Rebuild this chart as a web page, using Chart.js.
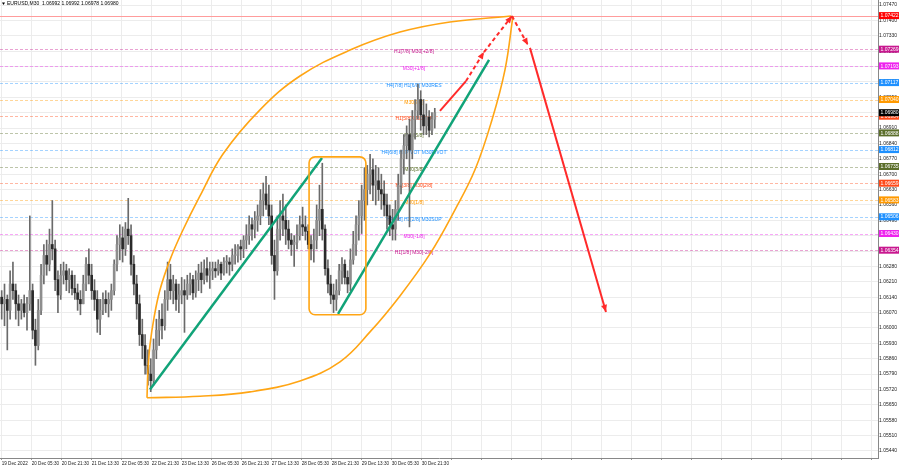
<!DOCTYPE html>
<html>
<head>
<meta charset="utf-8">
<script src="https://cdn.jsdelivr.net/npm/chart.js@4.4.0/dist/chart.umd.min.js"></script>
<style>
  html, body { margin: 0; padding: 0; background: #fff; }
</style>
</head>
<body>
<canvas id="myChart" width="900" height="468"></canvas>
<script>
// time axis labels (one every 32 M30 bars)
const timeLabels = ['19 Dec 2022', '20 Dec 05:30', '20 Dec 21:30', '21 Dec 13:30', '22 Dec 05:30',
  '22 Dec 21:30', '23 Dec 13:30', '26 Dec 05:30', '26 Dec 21:30', '27 Dec 13:30', '28 Dec 05:30',
  '28 Dec 21:30', '29 Dec 13:30', '30 Dec 05:30', '30 Dec 21:30'];

const priceTicks = [1.0544, 1.0551, 1.0558, 1.0565, 1.0572, 1.0579, 1.0586, 1.0593, 1.0600, 1.0607,
  1.0614, 1.0621, 1.0628, 1.0635, 1.0642, 1.0649, 1.0656, 1.0663, 1.0670, 1.0677,
  1.0684, 1.0691, 1.0698, 1.0705, 1.0712, 1.0719, 1.0726, 1.0733, 1.0740, 1.0747];

// EURUSD candles (each one = 1.5 hours)
const firstOpen = 1.0614;
const highs = [
  1.0617, 1.0620, 1.0615, 1.0626, 1.0630, 1.0620, 1.0615, 1.0613, 1.0615, 1.0614,
  1.0651, 1.0620, 1.0604, 1.0613, 1.0629, 1.0638, 1.0640, 1.0645, 1.0658, 1.0640,
  1.0626, 1.0629, 1.0630, 1.0629, 1.0627, 1.0626, 1.0624, 1.0620, 1.0617, 1.0624,
  1.0632, 1.0636, 1.0629, 1.0622, 1.0617, 1.0613, 1.0616, 1.0617, 1.0616, 1.0620,
  1.0631, 1.0642, 1.0647, 1.0646, 1.0648, 1.0659, 1.0647, 1.0633, 1.0624, 1.0615,
  1.0604, 1.0597, 1.0590, 1.0586, 1.0595, 1.0604, 1.0608, 1.0611, 1.0617, 1.0630,
  1.0629, 1.0624, 1.0622, 1.0620, 1.0623, 1.0622, 1.0624, 1.0625, 1.0624, 1.0626,
  1.0629, 1.0630, 1.0631, 1.0632, 1.0630, 1.0630, 1.0630, 1.0631, 1.0630, 1.0632,
  1.0633, 1.0632, 1.0636, 1.0638, 1.0638, 1.0640, 1.0642, 1.0647, 1.0651, 1.0650,
  1.0653, 1.0656, 1.0663, 1.0666, 1.0669, 1.0665, 1.0656, 1.0640, 1.0651, 1.0658,
  1.0661, 1.0656, 1.0649, 1.0643, 1.0642, 1.0647, 1.0651, 1.0655, 1.0651, 1.0647,
  1.0642, 1.0645, 1.0656, 1.0665, 1.0675, 1.0647, 1.0631, 1.0624, 1.0620, 1.0622,
  1.0629, 1.0632, 1.0631, 1.0626, 1.0636, 1.0644, 1.0651, 1.0658, 1.0665, 1.0673,
  1.0674, 1.0679, 1.0677, 1.0674, 1.0673, 1.0670, 1.0667, 1.0661, 1.0656, 1.0654,
  1.0658, 1.0670, 1.0681, 1.0688, 1.0692, 1.0695, 1.0699, 1.0704, 1.0711, 1.0708,
  1.0704, 1.0702, 1.0699, 1.0698, 1.0700];
const lows = [
  1.0604, 1.0601, 1.0590, 1.0604, 1.0613, 1.0604, 1.0601, 1.0604, 1.0605, 1.0599,
  1.0608, 1.0595, 1.0583, 1.0590, 1.0606, 1.0620, 1.0624, 1.0626, 1.0631, 1.0617,
  1.0607, 1.0613, 1.0620, 1.0617, 1.0616, 1.0615, 1.0613, 1.0608, 1.0606, 1.0611,
  1.0617, 1.0620, 1.0613, 1.0608, 1.0598, 1.0597, 1.0606, 1.0607, 1.0605, 1.0608,
  1.0615, 1.0626, 1.0631, 1.0630, 1.0633, 1.0638, 1.0624, 1.0615, 1.0604, 1.0592,
  1.0586, 1.0579, 1.0574, 1.0571, 1.0574, 1.0586, 1.0592, 1.0595, 1.0599, 1.0608,
  1.0613, 1.0611, 1.0608, 1.0607, 1.0611, 1.0598, 1.0613, 1.0615, 1.0613, 1.0614,
  1.0617, 1.0616, 1.0620, 1.0621, 1.0618, 1.0622, 1.0623, 1.0624, 1.0622, 1.0624,
  1.0625, 1.0624, 1.0626, 1.0629, 1.0630, 1.0631, 1.0632, 1.0636, 1.0638, 1.0640,
  1.0641, 1.0644, 1.0647, 1.0651, 1.0654, 1.0647, 1.0629, 1.0613, 1.0624, 1.0640,
  1.0642, 1.0638, 1.0636, 1.0633, 1.0628, 1.0636, 1.0640, 1.0642, 1.0640, 1.0636,
  1.0631, 1.0630, 1.0636, 1.0642, 1.0640, 1.0624, 1.0616, 1.0611, 1.0607, 1.0608,
  1.0615, 1.0620, 1.0620, 1.0616, 1.0617, 1.0629, 1.0633, 1.0640, 1.0643, 1.0649,
  1.0656, 1.0661, 1.0658, 1.0656, 1.0658, 1.0654, 1.0651, 1.0645, 1.0642, 1.0640,
  1.0640, 1.0649, 1.0661, 1.0670, 1.0677, 1.0646, 1.0677, 1.0686, 1.0695, 1.0690,
  1.0688, 1.0688, 1.0687, 1.0688, 1.0691];
const closes = [
  1.0611, 1.0613, 1.0608, 1.0620, 1.0617, 1.0611, 1.0608, 1.0611, 1.0607, 1.0611,
  1.0617, 1.0599, 1.0592, 1.0608, 1.0624, 1.0633, 1.0629, 1.0638, 1.0636, 1.0622,
  1.0615, 1.0624, 1.0626, 1.0622, 1.0624, 1.0618, 1.0616, 1.0613, 1.0611, 1.0620,
  1.0629, 1.0624, 1.0617, 1.0613, 1.0604, 1.0608, 1.0613, 1.0611, 1.0613, 1.0617,
  1.0629, 1.0638, 1.0641, 1.0636, 1.0645, 1.0642, 1.0629, 1.0620, 1.0611, 1.0597,
  1.0592, 1.0583, 1.0579, 1.0576, 1.0590, 1.0599, 1.0604, 1.0601, 1.0613, 1.0622,
  1.0617, 1.0620, 1.0613, 1.0615, 1.0617, 1.0615, 1.0620, 1.0622, 1.0616, 1.0622,
  1.0625, 1.0622, 1.0627, 1.0624, 1.0626, 1.0627, 1.0626, 1.0629, 1.0625, 1.0630,
  1.0630, 1.0629, 1.0633, 1.0633, 1.0637, 1.0636, 1.0640, 1.0642, 1.0647, 1.0645,
  1.0649, 1.0651, 1.0658, 1.0661, 1.0656, 1.0651, 1.0633, 1.0626, 1.0645, 1.0651,
  1.0649, 1.0645, 1.0640, 1.0638, 1.0639, 1.0642, 1.0647, 1.0646, 1.0644, 1.0638,
  1.0636, 1.0640, 1.0649, 1.0654, 1.0645, 1.0627, 1.0620, 1.0615, 1.0613, 1.0617,
  1.0626, 1.0629, 1.0623, 1.0620, 1.0631, 1.0638, 1.0647, 1.0651, 1.0658, 1.0663,
  1.0670, 1.0672, 1.0665, 1.0667, 1.0663, 1.0661, 1.0656, 1.0651, 1.0647, 1.0645,
  1.0654, 1.0665, 1.0677, 1.0683, 1.0688, 1.0681, 1.0695, 1.0699, 1.0704, 1.0697,
  1.0692, 1.0696, 1.0690, 1.0695, 1.0698];

// Murrey levels shown on the chart
const levelValues = [1.07422, 1.07269, 1.07193, 1.07117, 1.07040, 1.06964, 1.06888,
  1.06812, 1.06735, 1.06659, 1.06583, 1.06506, 1.06430, 1.06354];
const levelNames = ['', 'H1[7/8] M30[+2/8]', 'M30[+1/8]', 'H4[7/8] H1[6/8] M30RES', 'M30[7/8]',
  'H1[5/8] M30[6/8]', 'M30[5/8]', 'H4[6/8] H1PIVOT M30PIVOT', 'M30[3/8]', 'H1[3/8] M30[2/8]',
  'M30[1/8]', 'H4[5/8] H1[2/8] M30SUP', 'M30[-1/8]', 'H1[1/8] M30[-2/8]'];
const levelColors = ['#ff0000', '#c8178f', '#ee22ee', '#1e90ff', '#ff9900', '#ff4a1a', '#5b6e2a',
  '#1e90ff', '#5b6e2a', '#ff4a1a', '#ff9900', '#1e90ff', '#ee22ee', '#c8178f'];
const levelLabelX = 146.6;
const lastPrice = 1.06980;
const title = 'EURUSD,M30  1.06992 1.06992 1.06978 1.06980';

// drawn analysis objects (x in candles, y in price)
const upperArcX = [51.67, 52.02, 52.73, 54.16, 56.29, 59.84, 64.11, 70.51, 78.69, 91.84, 106.07, 123.84, 141.62, 159.4, 181.09];
const upperArcY = [1.05682, 1.0581, 1.05923, 1.06046, 1.06174, 1.0631, 1.06437, 1.06601, 1.06792, 1.06993, 1.07147, 1.07265, 1.07347, 1.07393, 1.0742];
const lowerArcX = [51.67, 70.51, 88.29, 106.07, 120.29, 130.96, 141.62, 152.29, 161.18, 168.29, 174.33, 178.96, 181.8];
const lowerArcY = [1.05682, 1.05689, 1.05709, 1.05759, 1.05846, 1.05982, 1.06146, 1.06337, 1.06538, 1.0672, 1.06947, 1.07175, 1.0742];
const trend1X = [52.73, 113.9], trend1Y = [1.0572, 1.06774];
const trend2X = [119.6, 173.3], trend2Y = [1.06064, 1.0722];
const boxX = [109.3, 129.5], boxY = [1.06779, 1.0606];
const arrowX = [[155.84, 165.09], [165.09, 171.49], [171.49, 181.44], [181.44, 187.13], [187.84, 214.87]];
const arrowY = [[1.06988, 1.07124], [1.07124, 1.07256], [1.07256, 1.0742], [1.0742, 1.07288], [1.07275, 1.06073]];
const arrowDashed = [false, true, true, true, false];
const arrowHead = [false, true, true, true, true];

const FONT = '"Liberation Sans", Arial, sans-serif';
Chart.defaults.font.family = FONT;

var opens = closes.map((c, i) => i === 0 ? firstOpen : closes[i - 1]);
var pts = (xs, ys) => xs.map((x, i) => ({x: x, y: ys[i]}));

var lineSet = (xs, ys, color, width, extra) => Object.assign({
  type: 'line', data: pts(xs, ys), borderColor: color, borderWidth: width,
  pointRadius: 0, fill: false
}, extra || {});

var datasets = [];
arrowX.forEach((xs, i) => {
  datasets.push(lineSet(xs, arrowY[i], '#ff2a2a', 2, {borderDash: arrowDashed[i] ? [4, 3] : []}));
});
datasets.push(lineSet(trend1X, trend1Y, 'rgb(17,163,120)', 2.5));
datasets.push(lineSet(trend2X, trend2Y, 'rgb(17,163,120)', 2.5));
datasets.push(lineSet(upperArcX, upperArcY, '#ffa514', 1.6, {tension: 0.4}));
datasets.push(lineSet(lowerArcX, lowerArcY, '#ffa514', 1.6, {tension: 0.4}));
datasets.push({
  type: 'bar', grouped: false, barThickness: 2, minBarLength: 1,
  data: closes.map((c, i) => ({x: i, y: [opens[i], c]})),
  backgroundColor: closes.map((c, i) => c >= opens[i] ? '#8e8e8e' : '#2a2a2a')
});
datasets.push({
  type: 'bar', grouped: false, barThickness: 1,
  data: highs.map((h, i) => ({x: i, y: [lows[i], h]})),
  backgroundColor: '#6a6a6a'
});

var levelsPlugin = {
  id: 'levels',
  beforeDatasetsDraw(chart) {
    const {ctx, chartArea: a, scales: {x, y}} = chart;
    ctx.save();
    ctx.beginPath();
    ctx.rect(a.left, a.top, a.right - a.left, a.bottom - a.top);
    ctx.clip();
    levelValues.forEach((v, i) => {
      const py = Math.round(y.getPixelForValue(v)) + 0.5;
      ctx.globalAlpha = i === 0 ? 1 : 0.4;
      ctx.strokeStyle = i === 0 ? '#ff9c9c' : levelColors[i];
      ctx.lineWidth = 1;
      ctx.setLineDash(i === 0 ? [] : [3, 2]);
      ctx.beginPath();
      ctx.moveTo(a.left, py);
      ctx.lineTo(a.right, py);
      ctx.stroke();
      if (levelNames[i]) {
        ctx.globalAlpha = 1;
        ctx.fillStyle = levelColors[i];
        ctx.font = '5px ' + FONT;
        ctx.textAlign = 'center';
        ctx.textBaseline = 'middle';
        ctx.fillText(levelNames[i], x.getPixelForValue(levelLabelX), py + 2);
      }
    });
    ctx.restore();
  }
};

var overlayPlugin = {
  id: 'overlay',
  afterDatasetsDraw(chart) {
    const {ctx, scales: {x, y}} = chart;
    ctx.save();
    // rounded box round the dip
    const x0 = x.getPixelForValue(boxX[0]), x1 = x.getPixelForValue(boxX[1]);
    const y0 = y.getPixelForValue(boxY[0]), y1 = y.getPixelForValue(boxY[1]);
    const r = 6;
    ctx.strokeStyle = '#ffa514';
    ctx.lineWidth = 1.6;
    ctx.beginPath();
    ctx.moveTo(x0 + r, y0);
    ctx.arcTo(x1, y0, x1, y1, r);
    ctx.arcTo(x1, y1, x0, y1, r);
    ctx.arcTo(x0, y1, x0, y0, r);
    ctx.arcTo(x0, y0, x1, y0, r);
    ctx.closePath();
    ctx.stroke();
    // arrow heads
    ctx.fillStyle = '#ff2a2a';
    arrowX.forEach((xs, i) => {
      if (!arrowHead[i]) return;
      const ax = x.getPixelForValue(xs[0]), ay = y.getPixelForValue(arrowY[i][0]);
      const bx = x.getPixelForValue(xs[1]), by = y.getPixelForValue(arrowY[i][1]);
      const ang = Math.atan2(by - ay, bx - ax);
      ctx.beginPath();
      ctx.moveTo(bx, by);
      ctx.lineTo(bx - 7 * Math.cos(ang) + 3 * Math.sin(ang), by - 7 * Math.sin(ang) - 3 * Math.cos(ang));
      ctx.lineTo(bx - 7 * Math.cos(ang) - 3 * Math.sin(ang), by - 7 * Math.sin(ang) + 3 * Math.cos(ang));
      ctx.closePath();
      ctx.fill();
    });
    ctx.restore();
  },
  afterDraw(chart) {
    const {ctx, chartArea: a, scales: {y}} = chart;
    ctx.save();
    ctx.font = '5px ' + FONT;
    ctx.textBaseline = 'middle';
    ctx.textAlign = 'left';
    var box = (v, color) => {
      const py = y.getPixelForValue(v);
      ctx.fillStyle = color;
      ctx.fillRect(a.right + 1, py - 3.5, 20, 7);
      ctx.fillStyle = '#fff';
      ctx.fillText(v.toFixed(5), a.right + 2.5, py + 0.3);
    };
    levelValues.forEach((v, i) => box(v, levelColors[i]));
    box(lastPrice, '#000');
    // symbol title
    ctx.fillStyle = '#000';
    ctx.beginPath();
    ctx.moveTo(2, 2.5); ctx.lineTo(5, 2.5); ctx.lineTo(3.5, 5);
    ctx.closePath();
    ctx.fill();
    ctx.fillText(title, 7, 4);
    ctx.restore();
  }
};

var chart = new Chart(document.getElementById('myChart'), {
  type: 'bar',
  data: {datasets: datasets},
  plugins: [levelsPlugin, overlayPlugin],
  options: {
    responsive: false,
    animation: false,
    devicePixelRatio: 1,
    events: [],
    layout: {padding: 0},
    plugins: {legend: {display: false}, tooltip: {enabled: false}},
    scales: {
      x: {
        type: 'linear', min: -0.6, max: 311.6, offset: false,
        afterBuildTicks: (axis) => {
          const t = [];
          for (let k = 0; k < 30; k++) t.push({value: k * 32 / 3});
          axis.ticks = t;
        },
        afterFit: (s) => { s.height = 10; s.paddingLeft = 0; s.paddingRight = 0; },
        ticks: {
          callback: (v, i) => timeLabels[i] || '',
          align: 'start', maxRotation: 0, minRotation: 0, autoSkip: false,
          padding: 1, color: '#222', font: {size: 4.6}
        },
        grid: {color: '#ececec', offset: false, drawTicks: true, tickLength: 2, tickColor: '#999'},
        border: {color: '#888'}
      },
      y: {
        type: 'linear', position: 'right', min: 1.05408, max: 1.07493,
        afterBuildTicks: (axis) => { axis.ticks = priceTicks.map(v => ({value: v})); },
        afterFit: (s) => { s.width = 22; s.paddingTop = 0; s.paddingBottom = 0; },
        ticks: {callback: (v) => v.toFixed(5), padding: 1, color: '#222', font: {size: 5}},
        grid: {color: '#ececec', drawTicks: false},
        border: {color: '#888'}
      }
    }
  }
});
</script>
</body>
</html>
